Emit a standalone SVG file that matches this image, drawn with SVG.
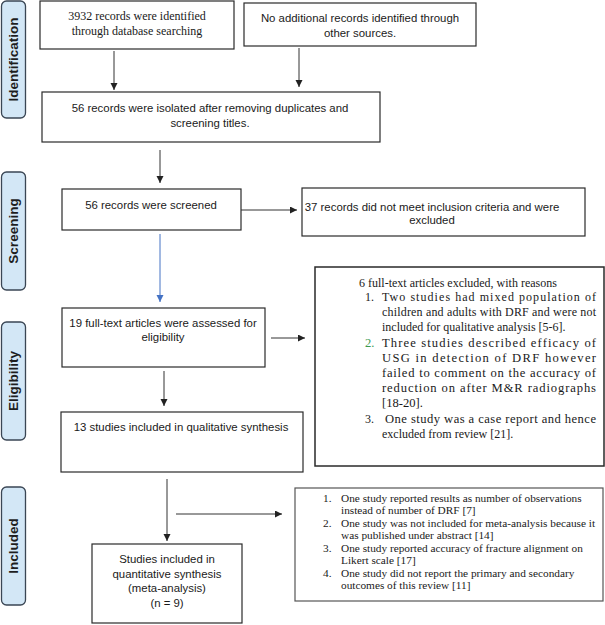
<svg xmlns="http://www.w3.org/2000/svg" width="605" height="625" viewBox="0 0 605 625">
<style>
.lbl rect{fill:#d3e7f6;stroke:#3a4654;stroke-width:1.3}
.lbl text{font-family:"Liberation Sans",Arial,sans-serif;font-weight:bold;font-size:13.5px;fill:#1e1e1e;text-anchor:middle}
.box{fill:#fff;stroke:#2a2a2a;stroke-width:1.2}
.sans{font-family:"Liberation Sans",Arial,sans-serif;font-size:11.4px;fill:#1a1a1a;text-anchor:middle}
.serif{font-family:"Liberation Serif","Times New Roman",serif;font-size:12px;fill:#1a1a1a}
.mid{text-anchor:middle}
.s11{font-family:"Liberation Serif","Times New Roman",serif;font-size:11.3px;fill:#1a1a1a}
.big{font-size:12.6px}
.conn line{stroke:#333;stroke-width:1}
.conn line.blue{stroke:#4472c4}
</style>
<defs>
<marker id="ah" markerUnits="userSpaceOnUse" markerWidth="8" markerHeight="8" refX="7" refY="3.5" orient="auto">
<path d="M0,0 L7,3.5 L0,7 z" fill="#222"/>
</marker>
<marker id="ahb" markerUnits="userSpaceOnUse" markerWidth="8" markerHeight="8" refX="7" refY="3.5" orient="auto">
<path d="M0,0 L7,3.5 L0,7 z" fill="#4472c4"/>
</marker>
</defs>

<g id="label-identification" class="lbl"><rect x="1.5" y="1" width="24" height="117" rx="5"/><text transform="translate(18,59.5) rotate(-90)">Identification</text></g>
<g id="label-screening" class="lbl"><rect x="1.5" y="172" width="24" height="118" rx="5"/><text transform="translate(18,231) rotate(-90)">Screening</text></g>
<g id="label-eligibility" class="lbl"><rect x="1.5" y="322" width="24" height="118" rx="5"/><text transform="translate(18,381) rotate(-90)">Eligibility</text></g>
<g id="label-included" class="lbl"><rect x="1.5" y="487" width="24" height="118" rx="5"/><text transform="translate(18,546) rotate(-90)">Included</text></g>

<g id="n-database">
<rect class="box" x="40" y="1" width="194" height="48"/>
<text class="serif mid" x="137" y="20">3932 records were identified</text>
<text class="serif mid" x="137" y="35">through database searching</text>
</g>
<g id="n-other">
<rect class="box" x="244" y="3" width="232" height="43"/>
<text class="sans" x="360" y="22">No additional records identified through</text>
<text class="sans" x="360" y="37">other sources.</text>
</g>
<g id="n-isolated">
<rect class="box" x="42" y="92" width="338" height="50"/>
<text class="sans" x="210" y="112">56 records were isolated after removing duplicates and</text>
<text class="sans" x="210" y="127">screening titles.</text>
</g>
<g id="n-screened">
<rect class="box" x="62" y="189" width="179" height="41"/>
<text class="sans" x="151" y="209">56 records were screened</text>
</g>
<g id="n-excluded37">
<rect class="box" x="302" y="188" width="283" height="48"/>
<text class="sans" x="432" y="211">37 records did not meet inclusion criteria and were</text>
<text class="sans" x="432" y="224">excluded</text>
</g>
<g id="n-fulltext">
<rect class="box" x="62" y="308" width="203" height="59"/>
<text class="sans" x="163" y="327">19 full-text articles were assessed for</text>
<text class="sans" x="163" y="341">eligibility</text>
</g>
<g id="n-excluded6">
<rect class="box" x="315" y="267" width="289" height="199" style="stroke-width:1.5"/>
<text class="serif" x="359" y="287">6 full-text articles excluded, with reasons</text>
<text class="serif" x="365" y="301">1.</text>
<text class="serif" x="382" y="301" textLength="214" lengthAdjust="spacing">Two studies had mixed population of</text>
<text class="serif" x="382" y="316" textLength="214" lengthAdjust="spacing">children and adults with DRF and were not</text>
<text class="serif" x="382" y="331">included for qualitative analysis  [5-6].</text>
<text class="serif big" x="365" y="347" style="fill:#3c9a50">2.</text>
<text class="serif big" x="382" y="347" textLength="214" lengthAdjust="spacing">Three studies described efficacy of</text>
<text class="serif big" x="382" y="362" textLength="214" lengthAdjust="spacing">USG in detection of DRF however</text>
<text class="serif big" x="382" y="377" textLength="214" lengthAdjust="spacing">failed to comment on the accuracy of</text>
<text class="serif big" x="382" y="392" textLength="214" lengthAdjust="spacing">reduction on after M&amp;R radiographs</text>
<text class="serif big" x="382" y="407">[18-20].</text>
<text class="serif" x="365" y="423">3.</text>
<text class="serif big" x="385" y="423" textLength="211" lengthAdjust="spacing">One study was a case report and hence</text>
<text class="serif" x="382" y="438">excluded from review [21].</text>
</g>
<g id="n-qualitative">
<rect class="box" x="61" y="412" width="242" height="60"/>
<text class="sans" x="181" y="431">13 studies included in qualitative synthesis</text>
</g>
<g id="n-reasons">
<rect class="box" x="295" y="488" width="308" height="113" style="stroke:#555"/>
<text class="s11" x="323" y="501.5">1.</text>
<text class="s11" x="341" y="501.5">One study reported results as number of observations</text>
<text class="s11" x="341" y="514">instead of number of DRF [7]</text>
<text class="s11" x="323" y="526.5">2.</text>
<text class="s11" x="341" y="526.5">One study was not included for meta-analysis because it</text>
<text class="s11" x="341" y="539">was published under abstract [14]</text>
<text class="s11" x="323" y="551.5">3.</text>
<text class="s11" x="341" y="551.5">One study reported accuracy of fracture alignment on</text>
<text class="s11" x="341" y="564">Likert scale [17]</text>
<text class="s11" x="323" y="576.5">4.</text>
<text class="s11" x="341" y="576.5">One study did not report the primary and secondary</text>
<text class="s11" x="341" y="589">outcomes of this review [11]</text>
</g>
<g id="n-quantitative">
<rect class="box" x="92" y="544" width="150" height="79"/>
<text class="sans" x="167" y="563">Studies included in</text>
<text class="sans" x="167" y="578">quantitative synthesis</text>
<text class="sans" x="167" y="592">(meta-analysis)</text>
<text class="sans" x="167" y="607">(n = 9)</text>
</g>

<g id="connectors" class="conn">
<line x1="114" y1="51" x2="114" y2="90" marker-end="url(#ah)"/>
<line x1="299" y1="48" x2="299" y2="87" marker-end="url(#ah)"/>
<line x1="160" y1="150" x2="160" y2="183" marker-end="url(#ah)"/>
<line x1="241" y1="210" x2="297" y2="210" marker-end="url(#ah)"/>
<line class="blue" x1="160" y1="234" x2="160" y2="302" marker-end="url(#ahb)"/>
<line x1="271" y1="338" x2="305" y2="338" marker-end="url(#ah)"/>
<line x1="164" y1="371" x2="164" y2="406" marker-end="url(#ah)"/>
<line x1="167" y1="479" x2="167" y2="541" marker-end="url(#ah)"/>
<line x1="176" y1="514" x2="282" y2="514" marker-end="url(#ah)"/>
</g>
</svg>
